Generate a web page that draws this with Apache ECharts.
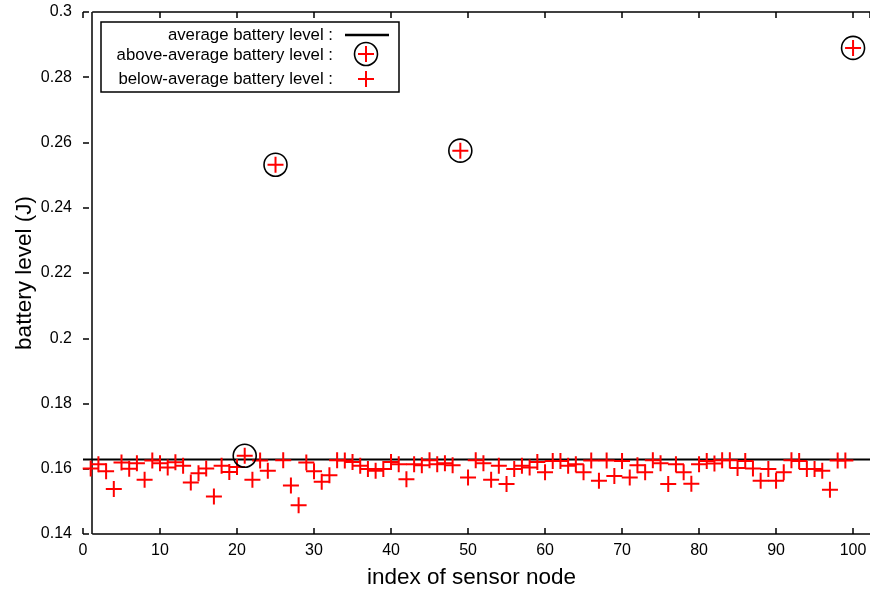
<!DOCTYPE html>
<html>
<head>
<meta charset="utf-8">
<script src="https://cdn.jsdelivr.net/npm/echarts@6/dist/echarts.min.js"></script>
<style>html,body{margin:0;padding:0;background:#fff;}#c{width:870px;height:590px;}</style>
</head>
<body>
<div id="c"></div>
<script>
// battery level (J) of sensor nodes 1..100
const batteryLevels = [
  0.1601, 0.1614, 0.1592, 0.1538, 0.1619, 0.1600, 0.1617, 0.1566, 0.1625, 0.1617,
  0.1604, 0.1620, 0.1609, 0.1558, 0.1586, 0.1601, 0.1515, 0.1609, 0.1590, 0.1605,
  0.1640, 0.1566, 0.1625, 0.1594, 0.2532, 0.1626, 0.1549, 0.1488, 0.1619, 0.1592,
  0.1560, 0.1580, 0.1626, 0.1625, 0.1621, 0.1609, 0.1599, 0.1594, 0.1599, 0.1621,
  0.1614, 0.1568, 0.1614, 0.1611, 0.1626, 0.1614, 0.1617, 0.1611, 0.2575, 0.1573,
  0.1626, 0.1617, 0.1566, 0.1609, 0.1553, 0.1599, 0.1609, 0.1604, 0.1621, 0.1589,
  0.1624, 0.1624, 0.1609, 0.1614, 0.1589, 0.1625, 0.1563, 0.1625, 0.1578, 0.1624,
  0.1573, 0.1611, 0.1589, 0.1626, 0.1617, 0.1553, 0.1614, 0.1589, 0.1554, 0.1614,
  0.1624, 0.1616, 0.1626, 0.1626, 0.1602, 0.1624, 0.1601, 0.1563, 0.1599, 0.1563,
  0.1589, 0.1626, 0.1624, 0.1599, 0.1599, 0.1594, 0.1536, 0.1625, 0.1625, 0.2890
];
const averageLevel = 0.1628;
const xTicks = { min: 0, max: 102.2, interval: 10 };
const yTicks = { min: 0.14, max: 0.3, interval: 0.02 };
const frameLeftX = 1.2;
const legendLabels = ['average battery level :', 'above-average battery level :', 'below-average battery level :'];

const nodeIndex = batteryLevels.map((v, i) => i + 1);
const allPoints = batteryLevels.map((v, i) => [nodeIndex[i], v]);
const abovePoints = allPoints.filter(p => p[1] > averageLevel);
const averagePoints = [[xTicks.min, averageLevel], [xTicks.max, averageLevel]];

const FONT = '"Liberation Sans", Arial, Helvetica, sans-serif';
const CROSS = 'path://M7,0H9V7H16V9H9V16H7V9H0V7H7Z';

const chart = echarts.init(document.getElementById('c'), null, { renderer: 'canvas' });

const tickStyle = { color: '#000', width: 1.5 };
const frameLine = { color: '#000', width: 1.5, type: 'solid' };

chart.setOption({
  animation: false,
  backgroundColor: '#fff',
  grid: { left: 83, right: 0, top: 12, bottom: 56, containLabel: false, outerBoundsMode: 'none' },
  xAxis: [{
    type: 'value', position: 'bottom',
    min: xTicks.min, max: xTicks.max, interval: xTicks.interval,
    name: 'index of sensor node', nameLocation: 'middle', nameGap: 32, nameMoveOverlap: false,
    nameTextStyle: { fontFamily: FONT, fontSize: 22.5, color: '#000', padding: [0, 10, 0, 0] },
    axisLine: { show: false },
    axisTick: { show: true, inside: true, length: 6, lineStyle: tickStyle },
    axisLabel: { color: '#000', fontFamily: FONT, fontSize: 16, margin: 9, showMaxLabel: false },
    splitLine: { show: false }
  }, {
    type: 'value', position: 'top',
    min: xTicks.min, max: xTicks.max, interval: xTicks.interval,
    axisLine: { show: false },
    axisTick: { show: true, inside: true, length: 6, lineStyle: tickStyle },
    axisLabel: { show: false },
    splitLine: { show: false }
  }],
  yAxis: {
    type: 'value', min: yTicks.min, max: yTicks.max, interval: yTicks.interval,
    name: 'battery level (J)', nameLocation: 'middle', nameGap: 47, nameMoveOverlap: false,
    nameTextStyle: { fontFamily: FONT, fontSize: 22.5, color: '#000' },
    axisLine: { show: false },
    axisTick: { show: true, inside: true, length: 6, lineStyle: tickStyle },
    axisLabel: { color: '#000', fontFamily: FONT, fontSize: 16, margin: 11,
      formatter: v => String(parseFloat(v.toFixed(4))) },
    splitLine: { show: false }
  },
  series: [
    {
      name: 'frame', type: 'line', data: [], silent: true, z: 1,
      markLine: {
        z: 1, silent: true, symbol: 'none', animation: false, label: { show: false },
        precision: 6,
        lineStyle: frameLine,
        data: [
          [{ coord: [frameLeftX, yTicks.min] }, { coord: [frameLeftX, yTicks.max] }],
          [{ coord: [frameLeftX, yTicks.max] }, { coord: [xTicks.max, yTicks.max] }],
          [{ coord: [frameLeftX, yTicks.min] }, { coord: [xTicks.max, yTicks.min] }]
        ]
      }
    },
    {
      name: 'average battery level', type: 'line', silent: true, z: 1,
      symbol: 'none', showSymbol: false,
      lineStyle: { color: '#000', width: 2, type: 'solid' },
      data: averagePoints
    },
    {
      name: 'below-average battery level', type: 'scatter', z: 3,
      symbol: CROSS, symbolSize: 16,
      itemStyle: { color: '#ff0000', opacity: 1 },
      data: allPoints
    },
    {
      name: 'above-average battery level', type: 'scatter', z: 4,
      symbol: 'circle', symbolSize: 23,
      itemStyle: { color: 'rgba(0,0,0,0)', borderColor: '#000', borderWidth: 1.6, opacity: 1 },
      data: abovePoints
    }
  ],
  graphic: [
    { type: 'rect', z: 10, shape: { x: 101, y: 22, width: 298, height: 70 },
      style: { fill: '#fff', stroke: '#000', lineWidth: 1.5 } },
    { type: 'text', z: 11, x: 333, y: 35,
      style: { text: legendLabels[0], font: '16.8px ' + FONT, fill: '#000', align: 'right', verticalAlign: 'middle' } },
    { type: 'text', z: 11, x: 333, y: 55,
      style: { text: legendLabels[1], font: '16.8px ' + FONT, fill: '#000', align: 'right', verticalAlign: 'middle' } },
    { type: 'text', z: 11, x: 333, y: 79,
      style: { text: legendLabels[2], font: '16.8px ' + FONT, fill: '#000', align: 'right', verticalAlign: 'middle' } },
    { type: 'line', z: 11, shape: { x1: 345, y1: 35, x2: 389, y2: 35 },
      style: { stroke: '#000', lineWidth: 2.5 } },
    { type: 'circle', z: 11, shape: { cx: 366, cy: 54, r: 11.5 },
      style: { fill: 'none', stroke: '#000', lineWidth: 1.6 } },
    { type: 'polygon', z: 12, x: 358, y: 46,
      shape: { points: [[7,0],[9,0],[9,7],[16,7],[16,9],[9,9],[9,16],[7,16],[7,9],[0,9],[0,7],[7,7]] },
      style: { fill: '#ff0000' } },
    { type: 'polygon', z: 12, x: 358, y: 71,
      shape: { points: [[7,0],[9,0],[9,7],[16,7],[16,9],[9,9],[9,16],[7,16],[7,9],[0,9],[0,7],[7,7]] },
      style: { fill: '#ff0000' } }
  ]
});
</script>
</body>
</html>
